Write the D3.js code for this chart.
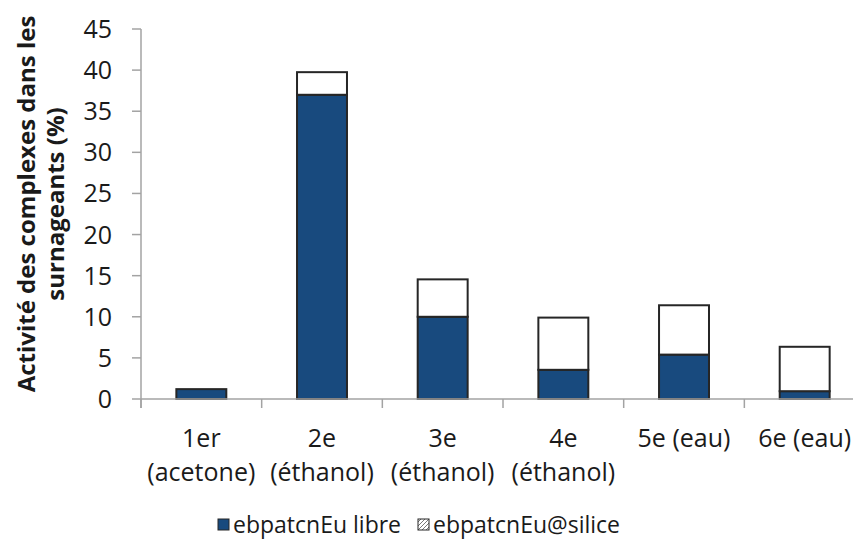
<!DOCTYPE html>
<html>
<head>
<meta charset="utf-8">
<script src="https://cdn.jsdelivr.net/npm/d3@7"></script>
<style>
  html, body { margin: 0; padding: 0; background: #fff; }
  svg { display: block; font-family: "Open Sans", "Noto Sans", sans-serif; }
</style>
</head>
<body>
<svg id="chart" width="853" height="543"></svg>
<script>
// Rinses of the material, one stacked bar per supernatant
const categories = [
  ["1er", "(acetone)"],
  ["2e", "(éthanol)"],
  ["3e", "(éthanol)"],
  ["4e", "(éthanol)"],
  ["5e (eau)"],
  ["6e (eau)"]
];
const libre  = [1.2, 37.0, 10.0, 3.55, 5.4, 0.95];
const silice = [0.0, 2.75, 4.55, 6.35, 6.0, 5.4];
const seriesNames = ["ebpatcnEu libre", "ebpatcnEu@silice"];
const yTicks = [0, 5, 10, 15, 20, 25, 30, 35, 40, 45];
const yTitle = ["Activité des complexes dans les", "surnageants (%)"];

const svg = d3.select("#chart");
const axisColor = "#a3a3a3";
const blue = "#184a7e";
const edge = "#262626";
const ink = "#1a1a1a";

const plotLeft = 141, plotTop = 29, plotBottom = 399;
const step = 120.67;
const x = d3.scaleBand()
  .domain(d3.range(categories.length))
  .range([plotLeft, plotLeft + step * categories.length])
  .padding(0);
const y = d3.scaleLinear().domain([0, 45]).range([plotBottom, plotTop]);

const rows = categories.map((c, i) => ({ i, libre: libre[i], silice: silice[i] }));
const stack = d3.stack().keys(["libre", "silice"])(rows);

// Bars
const barW = x.bandwidth() * 0.414;
const g = svg.append("g");
stack.forEach((layer, k) => {
  g.append("g").selectAll("rect")
    .data(layer.filter(d => d[1] - d[0] > 0))
    .join("rect")
    .attr("x", d => x(d.data.i) + (x.bandwidth() - barW) / 2)
    .attr("width", barW)
    .attr("y", d => y(d[1]))
    .attr("height", d => y(d[0]) - y(d[1]))
    .attr("fill", k === 0 ? blue : "#ffffff")
    .attr("stroke", edge)
    .attr("stroke-width", 2);
});

// Y axis
const yAxis = svg.append("g");
yAxis.append("line")
  .attr("x1", plotLeft).attr("x2", plotLeft)
  .attr("y1", y(45)).attr("y2", plotBottom + 9)
  .attr("stroke", axisColor).attr("stroke-width", 1.5);
yAxis.selectAll("line.tick").data(yTicks).join("line")
  .attr("class", "tick")
  .attr("x1", plotLeft - 9).attr("x2", plotLeft)
  .attr("y1", d => y(d)).attr("y2", d => y(d))
  .attr("stroke", axisColor).attr("stroke-width", 1.5);
yAxis.selectAll("text").data(yTicks).join("text")
  .attr("x", 112).attr("y", d => y(d))
  .attr("dy", "0.36em")
  .attr("text-anchor", "end")
  .attr("font-size", 25)
  .attr("fill", ink)
  .text(d => d);

// X axis
const xAxis = svg.append("g");
xAxis.append("line")
  .attr("x1", plotLeft).attr("x2", 853)
  .attr("y1", plotBottom).attr("y2", plotBottom)
  .attr("stroke", axisColor).attr("stroke-width", 1.5);
xAxis.selectAll("line.tick").data(d3.range(categories.length + 1)).join("line")
  .attr("class", "tick")
  .attr("x1", i => plotLeft + i * x.step()).attr("x2", i => plotLeft + i * x.step())
  .attr("y1", plotBottom).attr("y2", plotBottom + 9)
  .attr("stroke", axisColor).attr("stroke-width", 1.5);
const labels = xAxis.selectAll("text").data(categories).join("text")
  .attr("text-anchor", "middle")
  .attr("font-size", 25)
  .attr("fill", ink);
labels.selectAll("tspan").data((d, i) => d.map(t => ({ t, i }))).join("tspan")
  .attr("x", d => x(d.i) + x.bandwidth() / 2)
  .attr("y", (d, j) => 447 + j * 34)
  .text(d => d.t);

// Y title
const yt = svg.append("text")
  .attr("transform", "translate(0,204) rotate(-90)")
  .attr("text-anchor", "middle")
  .attr("font-size", 24)
  .attr("font-weight", "bold")
  .attr("fill", ink);
yTitle.forEach((t, j) => {
  yt.append("tspan").attr("x", 0).attr("y", 35 + j * 29).text(t);
});

// Legend
const defs = svg.append("defs");
const pat = defs.append("pattern")
  .attr("id", "hatch").attr("patternUnits", "userSpaceOnUse")
  .attr("width", 4).attr("height", 4);
pat.append("rect").attr("width", 4).attr("height", 4).attr("fill", "#fff");
pat.append("path").attr("d", "M0,4 L4,0 M-1,1 L1,-1 M3,5 L5,3")
  .attr("stroke", "#555").attr("stroke-width", 0.8);

const legend = svg.append("g");
const legendItems = [
  { name: seriesNames[0], x: 218, fill: blue },
  { name: seriesNames[1], x: 418, fill: "url(#hatch)" }
];
legendItems.forEach(it => {
  legend.append("rect")
    .attr("x", it.x).attr("y", 519).attr("width", 11).attr("height", 11)
    .attr("fill", it.fill).attr("stroke", edge).attr("stroke-width", 1);
  legend.append("text")
    .attr("x", it.x + 15).attr("y", 525).attr("dy", "0.36em")
    .attr("font-size", 23).attr("fill", ink)
    .text(it.name);
});
</script>
</body>
</html>
